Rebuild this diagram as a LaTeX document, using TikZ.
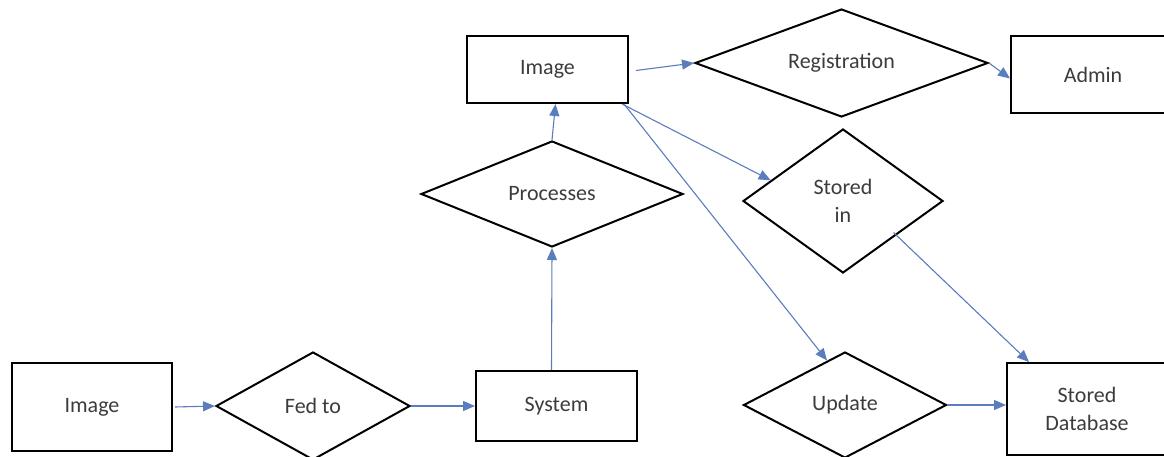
\documentclass[tikz,border=0pt]{standalone}
\usepackage{fontspec}
\setmainfont{Carlito}
\usetikzlibrary{shapes.geometric,arrows.meta}
\definecolor{conn}{HTML}{5B7DBE}
\definecolor{txt}{HTML}{3C3C3C}
\tikzset{
  ent/.style={draw=black,line width=2pt,rectangle,inner sep=0pt,text=txt,font=\fontsize{22}{28}\selectfont,align=center},
  rel/.style={draw=black,line width=2pt,diamond,aspect=2.5,inner sep=0pt,text=txt,font=\fontsize{22}{28}\selectfont,align=center},
  conn/.style={draw=conn,line width=1.1pt,-{Triangle[length=12pt,width=10pt]}}
}
\begin{document}
\begin{tikzpicture}[x=1pt,y=-1pt]
\useasboundingbox[fill=white] (0,0) rectangle (1164,457);
\clip (0,0) rectangle (1164,457);
\node[ent,minimum width=160pt,minimum height=88pt] (img1) at (92,407) {Image};
\node[rel,minimum width=194pt,minimum height=108pt] (fed) at (313,406) {Fed to};
\node[ent,minimum width=161pt,minimum height=70pt] (sys) at (556.5,406) {System};
\node[rel,minimum width=262pt,minimum height=106pt] (proc) at (552,194) {Processes};
\node[ent,minimum width=161pt,minimum height=67pt] (img2) at (547.5,69.5) {Image};
\node[rel,minimum width=293pt,minimum height=108pt] (reg) at (841.5,63) {Registration};
\node[ent,minimum width=164pt,minimum height=77pt] (admin) at (1093,74.5) {Admin};
\node[rel,minimum width=200pt,minimum height=144pt] (storin) at (843,201) {Stored\\in};
\node[rel,minimum width=203pt,minimum height=106pt] (upd) at (845,405) {Update};
\node[ent,minimum width=160pt,minimum height=92pt] (db) at (1087,409) {Stored\\Database};

\draw[conn] ([xshift=2pt]img1.east) -- (fed.west);
\draw[conn] (fed.east) -- (sys.west);
\draw[conn] ([xshift=-5pt]sys.north) -- (proc.south);
\draw[conn] (proc.north) -- ([xshift=8pt]img2.south);
\draw[conn] ([xshift=7pt,yshift=-1pt]img2.east) -- (reg.west);
\draw[conn] (reg.east) -- ([yshift=-4pt]admin.west);
\draw[conn] ([xshift=-7pt]img2.south east) -- (storin.164);
\draw[conn] ([xshift=-5pt]img2.south east) -- (upd.112);
\draw[conn] ([yshift=5pt]storin.south east) -- ([xshift=23pt]db.north west);
\draw[conn] (upd.east) -- (upd.east -| db.west);
\end{tikzpicture}
\end{document}
